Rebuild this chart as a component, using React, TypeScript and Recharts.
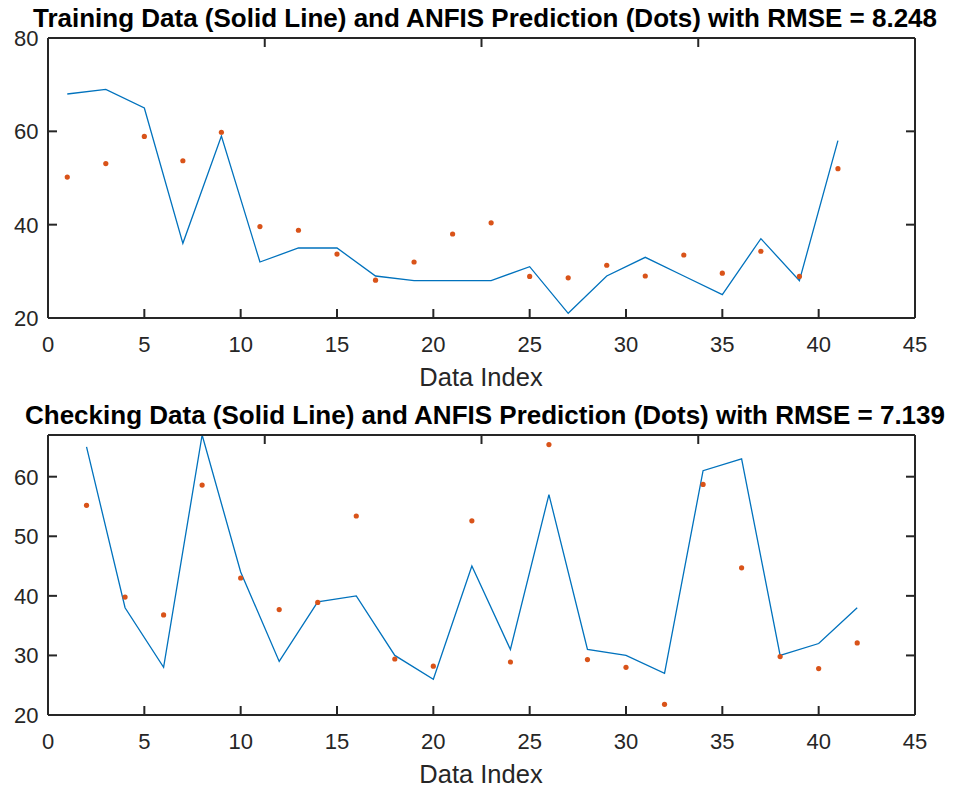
import React from 'react';
import { ComposedChart, Line, Scatter, XAxis, YAxis } from 'recharts';

// training set (odd indices) - target values and ANFIS output
const trainIndex = [1, 3, 5, 7, 9, 11, 13, 15, 17, 19, 21, 23, 25, 27, 29, 31, 33, 35, 37, 39, 41];
const trainActual = [68, 69, 65, 36, 59, 32, 35, 35, 29, 28, 28, 28, 31, 21, 29, 33, 29, 25, 37, 28, 58];
const trainPredicted = [50.2, 53.1, 58.9, 53.7, 59.8, 39.6, 38.8, 33.7, 28.1, 32.0, 38.0, 40.4, 28.9, 28.6, 31.3, 29.0, 33.5, 29.6, 34.3, 28.9, 52.0];

// checking set (even indices)
const checkIndex = [2, 4, 6, 8, 10, 12, 14, 16, 18, 20, 22, 24, 26, 28, 30, 32, 34, 36, 38, 40, 42];
const checkActual = [65, 38, 28, 67, 44, 29, 39, 40, 30, 26, 45, 31, 57, 31, 30, 27, 61, 63, 30, 32, 38];
const checkPredicted = [55.2, 39.8, 36.8, 58.6, 43.0, 37.7, 38.9, 53.4, 29.4, 28.2, 52.6, 28.9, 65.4, 29.3, 28.0, 21.8, 58.7, 44.7, 29.8, 27.8, 32.1];

const xTicks = [0, 5, 10, 15, 20, 25, 30, 35, 40, 45];
const trainYTicks = [20, 40, 60, 80];
const checkYTicks = [20, 30, 40, 50, 60];

const AXIS = '#262626';
const LINE = '#0072BD';
const DOT = '#D95319';
const FONT = '"Liberation Sans", Arial, Helvetica, sans-serif';
const TICK_LEN = 9;

const BottomTick = (props: any) => {
  const { x, y, payload } = props;
  return (
    <g>
      <line x1={x} y1={y} x2={x} y2={y - TICK_LEN} stroke={AXIS} strokeWidth={2} />
      <text x={x} y={y + 34} textAnchor="middle" fill={AXIS} fontSize={22} fontFamily={FONT}>
        {payload.value}
      </text>
    </g>
  );
};

const TopTick = (props: any) => {
  const { x, y } = props;
  return <line x1={x} y1={y} x2={x} y2={y + TICK_LEN} stroke={AXIS} strokeWidth={2} />;
};

const LeftTick = (props: any) => {
  const { x, y, payload } = props;
  return (
    <g>
      <line x1={x} y1={y} x2={x + TICK_LEN} y2={y} stroke={AXIS} strokeWidth={2} />
      <text x={x - 9.5} y={y + 8} textAnchor="end" fill={AXIS} fontSize={22} fontFamily={FONT}>
        {payload.value}
      </text>
    </g>
  );
};

const RightTick = (props: any) => {
  const { x, y } = props;
  return <line x1={x} y1={y} x2={x - TICK_LEN} y2={y} stroke={AXIS} strokeWidth={2} />;
};

const Dot = (props: any) => <circle cx={props.cx} cy={props.cy} r={2.6} fill={DOT} />;

interface PanelProps {
  top: number;
  title: string;
  index: number[];
  actual: number[];
  predicted: number[];
  yDomain: [number, number];
  yTicks: number[];
}

const Panel: React.FC<PanelProps> = ({ top, title, index, actual, predicted, yDomain, yTicks }) => {
  const rows = index.map((x, i) => ({ index: x, actual: actual[i], predicted: predicted[i] }));
  return (
    <div style={{ position: 'absolute', left: 0, top, width: 955, height: 396 }}>
      <div
        style={{
          position: 'absolute', left: 0, top: 5, width: 970, textAlign: 'center',
          fontFamily: FONT, fontWeight: 'bold', fontSize: 26, lineHeight: '26px', color: '#000',
          whiteSpace: 'nowrap',
        }}
      >
        {title}
      </div>
      <ComposedChart
        width={955}
        height={396}
        data={rows}
        margin={{ top: 37, right: 39, bottom: 77, left: 47 }}
      >
        <XAxis
          dataKey="index"
          type="number"
          domain={[0, 45]}
          ticks={xTicks}
          interval={0}
          height={1}
          tickSize={0}
          tickMargin={0}
          tickLine={false}
          tick={<BottomTick />}
          axisLine={{ stroke: AXIS, strokeWidth: 2 }}
        />
        <XAxis
          xAxisId="top"
          orientation="top"
          type="number"
          domain={[0, 45]}
          ticks={xTicks}
          interval={0}
          height={1}
          tickSize={0}
          tickMargin={0}
          tickLine={false}
          tick={<TopTick />}
          axisLine={{ stroke: AXIS, strokeWidth: 2 }}
        />
        <YAxis
          type="number"
          domain={yDomain}
          ticks={yTicks}
          interval={0}
          width={1}
          tickSize={0}
          tickMargin={0}
          tickLine={false}
          tick={<LeftTick />}
          allowDataOverflow
          axisLine={{ stroke: AXIS, strokeWidth: 2 }}
        />
        <YAxis
          yAxisId="right"
          orientation="right"
          type="number"
          domain={yDomain}
          ticks={yTicks}
          interval={0}
          width={1}
          tickSize={0}
          tickMargin={0}
          tickLine={false}
          tick={<RightTick />}
          allowDataOverflow
          axisLine={{ stroke: AXIS, strokeWidth: 2 }}
        />
        <Line
          type="linear"
          dataKey="actual"
          stroke={LINE}
          strokeWidth={1.3}
          dot={false}
          isAnimationActive={false}
        />
        <Scatter dataKey="predicted" data={rows} shape={<Dot />} isAnimationActive={false} />
      </ComposedChart>
      <div
        style={{
          position: 'absolute', left: 0, top: 365, width: 962, textAlign: 'center',
          fontFamily: FONT, fontSize: 25.5, lineHeight: '25.5px', color: AXIS,
        }}
      >
        Data Index
      </div>
    </div>
  );
}

export default function App() {
  return (
    <div style={{ position: 'absolute', left: 0, top: 0, width: 955, height: 792, background: '#fff', overflow: 'hidden' }}>
      <Panel
        top={0}
        title="Training Data (Solid Line) and ANFIS Prediction (Dots) with RMSE = 8.248"
        index={trainIndex}
        actual={trainActual}
        predicted={trainPredicted}
        yDomain={[20, 80]}
        yTicks={trainYTicks}
      />
      <Panel
        top={397}
        title="Checking Data (Solid Line) and ANFIS Prediction (Dots) with RMSE = 7.139"
        index={checkIndex}
        actual={checkActual}
        predicted={checkPredicted}
        yDomain={[20, 67]}
        yTicks={checkYTicks}
      />
    </div>
  );
}
